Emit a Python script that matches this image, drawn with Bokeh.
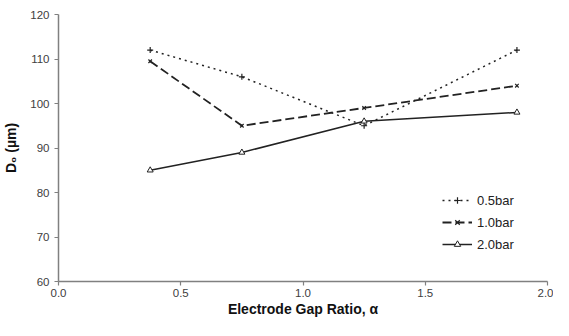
from bokeh.plotting import figure
from bokeh.models import Legend, LegendItem, Range1d, FixedTicker
from bokeh.embed import file_html
from bokeh.resources import INLINE

ratio = [0.375, 0.75, 1.25, 1.875]
d_05bar = [112, 106, 95, 112]
d_10bar = [109.5, 95, 99, 104]
d_20bar = [85, 89, 96, 98]
series_names = ["0.5bar", "1.0bar", "2.0bar"]
x_ticks = [0.0, 0.5, 1.0, 1.5, 2.0]
y_ticks = [60, 70, 80, 90, 100, 110, 120]

p = figure(width=553, height=320, output_backend="svg", toolbar_location=None,
           x_range=Range1d(0, 2), y_range=Range1d(60, 120),
           min_border_left=55, min_border_right=6, min_border_top=14, min_border_bottom=39)
p.outline_line_color = None
p.xgrid.visible = False
p.ygrid.visible = False

font = "Liberation Sans"
for ax in (p.xaxis, p.yaxis):
    ax.axis_line_color = "#808080"
    ax.axis_line_width = 1.5
    ax.major_tick_line_color = "#808080"
    ax.major_tick_line_width = 1.2
    ax.major_tick_out = 4
    ax.major_tick_in = 0
    ax.minor_tick_line_color = None
    ax.major_label_text_font = font
    ax.major_label_text_font_size = "11.5px"
    ax.major_label_text_color = "#404040"
    ax.axis_label_text_font = font
    ax.axis_label_text_font_size = "14px"
    ax.axis_label_text_font_style = "bold"
    ax.axis_label_text_color = "#111111"

p.xaxis.ticker = FixedTicker(ticks=x_ticks)
p.yaxis.ticker = FixedTicker(ticks=y_ticks)
p.xaxis.major_label_overrides = {t: f"{t:.1f}" for t in x_ticks}
p.xaxis.axis_label = "Electrode Gap Ratio, α"
p.yaxis.axis_label = "D₀ (µm)"
p.xaxis.major_label_standoff = 3
p.yaxis.major_label_standoff = 5
p.xaxis.axis_label_standoff = 1
p.yaxis.axis_label_standoff = 8

col = "#222222"
l1 = p.line(ratio, d_05bar, line_color=col, line_width=1.5, line_dash="2 4")
m1 = p.scatter(ratio, d_05bar, marker="cross", size=6, line_color=col, line_width=1.2)
l2 = p.line(ratio, d_10bar, line_color=col, line_width=1.8, line_dash="9 4")
m2 = p.scatter(ratio, d_10bar, marker="x", size=5, line_color=col, line_width=1.2)
l3 = p.line(ratio, d_20bar, line_color=col, line_width=1.5)
m3 = p.scatter(ratio, d_20bar, marker="triangle", size=6, line_color=col,
               fill_color="white", line_width=1)

legend = Legend(items=[
    LegendItem(label=series_names[0], renderers=[l1, m1]),
    LegendItem(label=series_names[1], renderers=[l2, m2]),
    LegendItem(label=series_names[2], renderers=[l3, m3]),
], location=(384, 29))
legend.border_line_color = None
legend.background_fill_alpha = 0
legend.padding = 0
legend.margin = 0
legend.spacing = 6
legend.label_height = 16
legend.glyph_height = 16
legend.glyph_width = 30
legend.label_standoff = 5
legend.label_text_font = font
legend.label_text_font_size = "13px"
legend.label_text_color = "#222222"
p.add_layout(legend, "center")

open("out.html", "w").write(file_html(p, INLINE))
